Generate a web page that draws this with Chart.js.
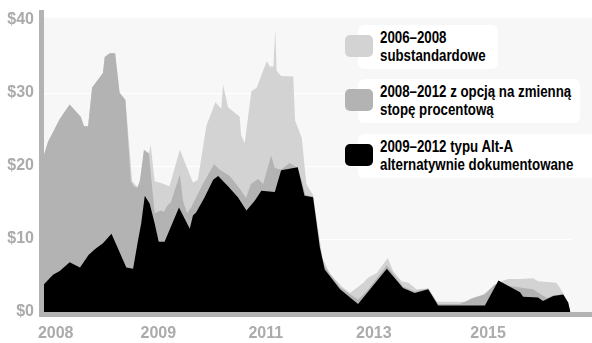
<!DOCTYPE html>
<html lang="pl">
<head>
<meta charset="utf-8">
<script src="https://cdn.jsdelivr.net/npm/chart.js@4.4.1/dist/chart.umd.min.js"></script>
<style>
  html, body { margin: 0; padding: 0; background: #fff; }
  #wrap { position: relative; width: 592px; height: 343px; overflow: hidden; }
  .item {
    position: absolute; left: 358px; height: 44px; box-sizing: border-box;
    background: #fff; border-radius: 6px;
    padding: 4px 0 4px 22px;
    font: bold 16px/18px 'Liberation Sans', Arial, sans-serif;
    color: #000; white-space: nowrap;
  }
  .item .txt { display: inline-block; transform: scaleX(0.83); transform-origin: 0 0; }
  .swatch { position: absolute; left: -13px; top: 10px; width: 28px; height: 22px; border-radius: 5px; }
</style>
</head>
<body>
<div id="wrap">
  <canvas id="chart" width="592" height="343"></canvas>
  <div id="legend"></div>
</div>
<script>
// x is a month index along the axis, y is dollars
const TICK_T = [2.6, 25.4, 49.3, 73.3, 98.7];
const TICK_LABELS = ['2008', '2009', '2011', '2013', '2015'];
const Y_TICKS = [0, 10, 20, 30, 40];
const GRID_VALUES = [10, 20, 30];

// 2006–2008 substandardowe
const SUB_T = [0, 0.9, 3.5, 5.7, 7.6, 8.9, 9.8, 10.7, 13.1, 13.5, 14.6, 15.8, 16.8, 18.1, 19.6, 20.9, 22.2, 23.3, 23.7, 24.6,
  25.7, 27.9, 30.2, 33.1, 34.2, 36.1, 38.1, 39.4, 39.8, 40.9, 43.5, 43.8, 44.6, 46.1, 47.3, 49.5, 50.2, 51.0, 51.4, 51.7,
  52.7, 55.4, 55.8, 57.3, 58.3, 59.8, 61.9, 63.6, 66.2, 68.0, 71.0, 72.0, 73.9, 76.4, 77.6, 79.5, 81.0, 82.8, 85.4, 87.3,
  93.9, 94.7, 97.6, 99.1, 102.1, 103.2, 105.8, 108.7, 109.8, 113.9, 114.7, 116.5, 117.0];
const SUB_V = [21.5, 23.3, 26.4, 28.4, 27.1, 25.4, 25.4, 30.7, 32.7, 34.9, 35.4, 35.4, 30.0, 29.0, 17.9, 17.0, 20.5, 21.5, 22.9, 17.9,
  17.7, 17.2, 22.2, 17.7, 18.1, 25.5, 28.7, 27.8, 31.1, 28.0, 26.7, 24.2, 23.1, 30.2, 30.7, 34.3, 33.6, 33.6, 38.7, 33.0,
  32.3, 32.2, 26.2, 23.8, 17.5, 16.0, 7.4, 5.2, 3.5, 2.6, 4.0, 4.7, 5.3, 7.4, 5.6, 4.2, 4.0, 3.1, 3.2, 1.4,
  1.4, 1.8, 2.4, 3.1, 4.3, 4.5, 4.5, 4.6, 4.2, 4.0, 3.3, 1.3, 0];

// 2008–2012 z opcją na zmienną stopę procentową
const ARM_T = [0, 0.9, 3.5, 5.7, 7.6, 8.2, 8.9, 9.8, 10.7, 13.1, 13.5, 14.6, 15.8, 16.8, 18.1, 19.3, 20.0, 20.7, 21.3, 22.2,
  23.3, 24.6, 26.0, 26.7, 27.3, 28.2, 30.2, 30.9, 31.8, 32.7, 35.3, 37.8, 39.0, 41.3, 43.6, 44.9, 46.0, 47.6, 48.7, 50.5,
  51.3, 52.7, 54.6, 56.4, 57.3, 58.1, 59.8, 61.6, 62.4, 65.8, 67.6, 69.8, 71.0, 71.8, 76.2, 79.8, 82.4, 85.4, 87.6, 92.4,
  93.9, 95.8, 98.0, 100.2, 104.2, 106.5, 108.7, 110.2, 111.8, 113.2, 115.4, 116.5, 117.0];
const ARM_V = [21.5, 23.3, 26.4, 28.4, 27.1, 26.7, 25.4, 25.4, 30.7, 32.7, 34.9, 35.4, 35.4, 30.0, 29.0, 17.9, 17.2, 17.0, 17.9, 22.2,
  21.7, 13.5, 13.9, 13.7, 14.5, 15.0, 18.8, 15.2, 13.5, 14.3, 17.5, 20.2, 19.5, 18.6, 16.8, 15.6, 17.5, 18.2, 17.5, 21.4,
  19.7, 19.5, 20.4, 19.7, 18.0, 16.0, 15.8, 7.8, 6.2, 3.4, 2.6, 1.7, 2.4, 2.9, 6.4, 3.5, 2.8, 3.2, 1.1, 1.1,
  1.5, 2.0, 2.4, 3.8, 3.5, 3.3, 3.1, 2.5, 1.9, 2.3, 2.4, 1.3, 0];

// 2009–2012 typu Alt-A alternatywnie dokumentowane
const ALT_T = [0, 2.0, 3.5, 5.7, 8.0, 9.9, 11.3, 13.1, 15.0, 18.3, 19.8, 20.9, 21.6, 22.4, 23.5, 24.6, 25.5, 26.8, 30.0, 32.4,
  33.1, 33.8, 35.7, 37.6, 38.7, 40.9, 43.1, 45.0, 46.8, 48.3, 51.3, 52.7, 56.4, 57.9, 59.8, 61.3, 62.4, 65.8, 69.8, 76.2,
  79.8, 82.4, 85.4, 87.6, 98.0, 101.0, 105.8, 106.5, 109.8, 110.9, 113.2, 115.4, 116.5, 117.0];
const ALT_V = [3.8, 5.1, 5.6, 6.8, 6.1, 7.8, 8.6, 9.4, 10.7, 6.1, 5.9, 9.8, 12.1, 15.9, 14.8, 12.1, 9.6, 9.6, 14.3, 11.4,
  13.2, 13.6, 15.7, 18.1, 18.6, 17.2, 15.7, 13.9, 15.2, 16.6, 16.4, 19.4, 19.8, 15.9, 15.7, 8.9, 5.8, 3.1, 1.1, 5.9,
  3.3, 2.6, 3.1, 0.9, 0.9, 4.3, 2.7, 2.1, 2.0, 1.5, 2.2, 2.4, 1.3, 0];

const SERIES = [
  { lines: ['2006–2008', 'substandardowe'], t: SUB_T, v: SUB_V, color: '#d3d3d3' },
  { lines: ['2008–2012 z opcją na zmienną', 'stopę procentową'], t: ARM_T, v: ARM_V, color: '#b3b3b3' },
  { lines: ['2009–2012 typu Alt-A', 'alternatywnie dokumentowane'], t: ALT_T, v: ALT_V, color: '#000000' },
];

// legend box placement
const LEGEND_TOPS = [25, 79, 134];
const LEGEND_WIDTHS = [140, 222, 240];
const X_MAX = 121.8;
const GRID_END = 117.3;

const zip = (t, v) => t.map((x, i) => ({ x, y: v[i] }));

// light panel, white grid lines and the grey axis bars
const frame = {
  id: 'frame',
  beforeDatasetsDraw(chart) {
    const { ctx, chartArea: a, scales: { x, y } } = chart;
    ctx.save();
    ctx.fillStyle = '#f7f7f7';
    ctx.fillRect(a.left, a.top - 2, a.right - a.left, a.bottom - a.top + 2);
    ctx.strokeStyle = '#ffffff';
    ctx.lineWidth = 1;
    GRID_VALUES.forEach(v => {
      const py = Math.round(y.getPixelForValue(v)) + 0.5;
      ctx.beginPath();
      ctx.moveTo(a.left, py);
      ctx.lineTo(x.getPixelForValue(GRID_END), py);
      ctx.stroke();
    });
    ctx.restore();
  },
  afterDatasetsDraw(chart) {
    const { ctx, chartArea: a } = chart;
    ctx.save();
    ctx.fillStyle = '#b3b3b3';
    ctx.fillRect(a.left - 5, 10, 5, a.bottom + 5 - 10);
    ctx.fillRect(a.left - 5, a.bottom, chart.width - a.left + 5, 5);
    ctx.restore();
  },
};

const tickFont = { family: "'Liberation Sans', Arial, sans-serif", size: 16, weight: 'bold' };

const chart = new Chart(document.getElementById('chart'), {
  type: 'line',
  data: {
    datasets: SERIES.map((s, i) => ({
      label: s.lines.join(' '),
      data: zip(s.t, s.v),
      backgroundColor: s.color,
      borderWidth: 0,
      pointRadius: 0,
      fill: 'origin',
      tension: 0,
      order: SERIES.length - i,
    })),
  },
  options: {
    responsive: false,
    animation: false,
    events: [],
    layout: { padding: { top: 17, left: 0, right: 0, bottom: 0 } },
    plugins: { legend: { display: false }, tooltip: { enabled: false } },
    scales: {
      x: {
        type: 'linear',
        min: 0,
        max: X_MAX,
        grid: { display: false, drawTicks: false },
        border: { display: false },
        afterFit: s => { s.height = 31; },
        afterBuildTicks: s => { s.ticks = TICK_T.map(value => ({ value })); },
        ticks: {
          autoSkip: false,
          maxRotation: 0,
          padding: 12,
          color: '#ababab',
          font: tickFont,
          callback: (v, i) => TICK_LABELS[i],
        },
      },
      y: {
        min: 0,
        max: 40,
        grid: { display: false, drawTicks: false },
        border: { display: false },
        afterFit: s => { s.width = 44; },
        afterBuildTicks: s => { s.ticks = Y_TICKS.map(value => ({ value })); },
        ticks: {
          padding: 10,
          color: '#ababab',
          font: tickFont,
          callback: v => '$' + v,
        },
      },
    },
  },
  plugins: [frame],
});

// boxed legend on the right, built from the series list
const legendEl = document.getElementById('legend');
legendEl.innerHTML = SERIES.map((s, i) => `
  <div class="item" style="top:${LEGEND_TOPS[i]}px;width:${LEGEND_WIDTHS[i]}px">
    <span class="swatch" style="background:${s.color}"></span>
    <span class="txt">${s.lines.join('<br>')}</span>
  </div>`).join('');
</script>
</body>
</html>
